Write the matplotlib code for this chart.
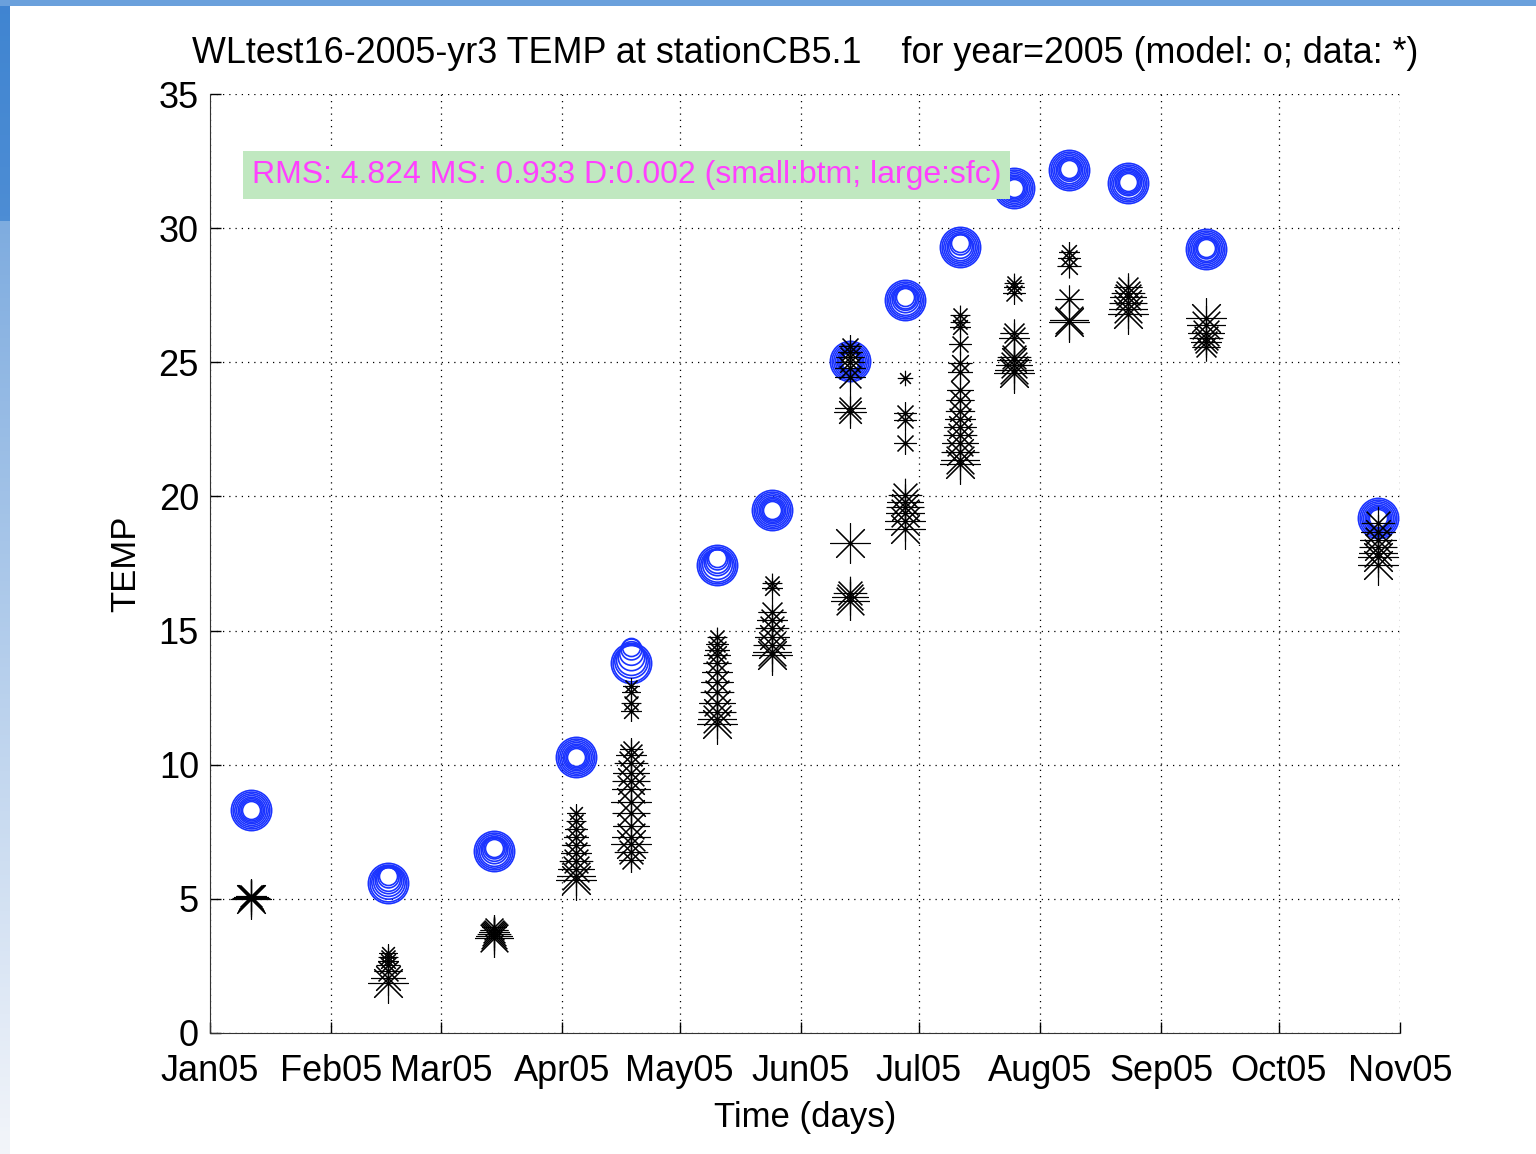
import numpy as np
import matplotlib
matplotlib.use("Agg")
import matplotlib.pyplot as plt

plt.rcParams['font.family'] = ['Liberation Sans', 'DejaVu Sans']

# 月份刻度 (2005 年 1 月 1 日起的天数)
month_days = [0, 31, 59, 90, 120, 151, 181, 212, 243, 273, 304]
month_labels = ['Jan05', 'Feb05', 'Mar05', 'Apr05', 'May05', 'Jun05',
                'Jul05', 'Aug05', 'Sep05', 'Oct05', 'Nov05']

# 观测日期 (天)
cruise_days = [10.5, 45.5, 72.5, 93.5, 107.5, 129.5, 143.5, 163.5,
               177.5, 191.5, 205.5, 219.5, 234.5, 254.5, 298.5]

# 模式值: 每个日期 8 层 (btm -> sfc)
model_temp = [
    [8.30, 8.30, 8.30, 8.30, 8.30, 8.30, 8.30, 8.30],
    [5.85, 5.80, 5.75, 5.70, 5.65, 5.62, 5.60, 5.60],
    [6.90, 6.88, 6.85, 6.82, 6.80, 6.80, 6.80, 6.80],
    [10.30, 10.30, 10.30, 10.30, 10.28, 10.28, 10.28, 10.28],
    [14.40, 14.30, 14.15, 14.00, 13.90, 13.85, 13.80, 13.80],
    [17.70, 17.65, 17.60, 17.55, 17.50, 17.45, 17.45, 17.45],
    [19.50, 19.50, 19.50, 19.50, 19.48, 19.48, 19.48, 19.48],
    [25.05, 25.05, 25.05, 25.05, 25.05, 25.05, 25.05, 25.05],
    [27.45, 27.40, 27.38, 27.35, 27.32, 27.32, 27.32, 27.32],
    [29.45, 29.40, 29.35, 29.30, 29.30, 29.30, 29.30, 29.30],
    [31.50, 31.50, 31.50, 31.50, 31.48, 31.48, 31.48, 31.48],
    [32.20, 32.20, 32.20, 32.18, 32.18, 32.18, 32.18, 32.18],
    [31.72, 31.72, 31.72, 31.72, 31.70, 31.70, 31.70, 31.70],
    [29.25, 29.25, 29.22, 29.22, 29.22, 29.22, 29.22, 29.22],
    [19.20, 19.20, 19.20, 19.20, 19.18, 19.18, 19.18, 19.18],
]
model_sizes = [13, 15, 17, 19, 21.5, 24, 26.5, 29]

# 观测值 (星号) 与对应标记大小 (small: btm; large: sfc)
data_temp = [
    [5.12, 5.08, 5.04, 5.00],
    [3.00, 2.85, 2.70, 2.55, 2.30, 2.05, 1.85],
    [3.95, 3.85, 3.75, 3.70, 3.62, 3.55],
    [8.20, 7.90, 7.60, 7.30, 7.00, 6.70, 6.40, 6.10, 5.85, 5.70],
    [12.95, 12.70, 12.30, 12.00, 10.60, 10.35, 10.05, 9.70, 9.40, 9.10,
     8.60, 8.20, 7.70, 7.30, 7.05, 6.75, 6.45],
    [14.76, 14.50, 14.27, 14.10, 13.80, 13.45, 13.08, 12.70, 12.30, 11.96,
     11.70, 11.50],
    [16.77, 16.60, 15.70, 15.40, 15.10, 14.76, 14.46, 14.20, 14.10],
    [25.60, 25.40, 25.20, 25.00, 24.80, 24.45, 23.30, 23.15, 18.26, 16.40,
     16.25, 16.10],
    [24.40, 23.10, 22.85, 22.00, 20.05, 19.80, 19.60, 19.40, 19.10, 18.80],
    [26.76, 26.50, 26.30, 25.70, 24.97, 24.64, 23.97, 23.60, 23.20, 22.90,
     22.60, 22.30, 22.00, 21.65, 21.36, 21.20],
    [27.95, 27.80, 27.60, 26.10, 25.90, 25.20, 25.08, 24.90, 24.70, 24.60],
    [29.10, 28.90, 28.60, 27.35, 26.57, 26.50],
    [27.80, 27.60, 27.43, 27.20, 27.00, 26.80],
    [26.65, 26.40, 26.10, 25.90, 25.75, 25.57],
    [19.00, 18.67, 18.37, 18.10, 17.90, 17.74, 17.44],
]
data_sizes = [
    [22, 25, 27, 29],
    [13, 14, 15, 17, 20, 25, 29],
    [18, 20, 22, 24, 26, 28],
    [13, 14, 16, 18, 20, 22, 24, 26, 28, 29],
    [12, 13, 14, 15, 16, 22, 24, 26, 27, 28, 29, 27, 26, 28, 29, 24, 18],
    [14, 16, 18, 19, 20, 22, 23, 24, 26, 27, 28, 29],
    [14, 15, 20, 22, 24, 25, 27, 28, 29],
    [16, 18, 20, 21, 22, 22, 22, 23, 29, 24, 26, 28],
    [11, 16, 16, 16, 24, 26, 27, 28, 29, 29],
    [14, 14, 15, 16, 17, 18, 19, 20, 21, 22, 23, 24, 26, 27, 28, 29],
    [14, 15, 16, 20, 22, 24, 25, 26, 28, 29],
    [15, 16, 17, 20, 28, 29],
    [20, 24, 26, 27, 28, 29],
    [29, 28, 26, 24, 22, 20],
    [24, 25, 26, 27, 28, 29, 29],
]

fig = plt.figure(figsize=(15.36, 11.54), dpi=100)

# 截图边框 (左侧/顶部蓝色条)
strip = fig.add_axes([0, 0, 10 / 1536, 1])
grad = np.linspace(0, 1, 256).reshape(-1, 1)
grad = np.where(grad < 0.19, grad * 0.4, 0.35 + 0.65 * (grad - 0.19) / 0.81)
strip.imshow(np.dstack([0.25 + 0.70 * grad, 0.52 + 0.44 * grad, 0.82 + 0.16 * grad]),
             aspect='auto', extent=[0, 1, 0, 1], origin='upper')
strip.axis('off')
top = fig.add_axes([0, 1 - 6 / 1154, 1, 6 / 1154])
top.set_facecolor('#6aa0dc')
top.set_xticks([])
top.set_yticks([])
for s in top.spines.values():
    s.set_visible(False)

ax = fig.add_axes([210 / 1536, 1 - 1033 / 1154, 1190 / 1536, 939 / 1154])

# 模式: 蓝色同心圆
for d, temps in zip(cruise_days, model_temp):
    for t, ms in zip(temps, model_sizes):
        ax.plot(d, t, 'o', mfc='none', mec='#1a33ff', ms=ms, mew=1.2, zorder=3)

# 观测: 黑色星号
for d, temps, sizes in zip(cruise_days, data_temp, data_sizes):
    for t, ms in zip(temps, sizes):
        ax.plot(d, t, marker=(8, 2, 0), color='black', ms=ms, mew=0.8,
                linestyle='none', zorder=4)

ax.set_xlim(0, 304)
ax.set_ylim(0, 35)
ax.set_xticks(month_days)
ax.set_xticklabels(month_labels)
ax.set_yticks(range(0, 36, 5))
ax.tick_params(direction='in', length=8, width=1, labelsize=26)
ax.tick_params(axis='x', pad=15)
ax.tick_params(axis='y', pad=8)
ax.grid(True, color='black', linestyle=(0, (1, 4)), linewidth=0.9)
ax.spines['top'].set_visible(False)
ax.spines['right'].set_visible(False)
ax.spines['left'].set_color('#333333')
ax.spines['bottom'].set_color('#333333')

ax.set_xlabel('Time (days)', fontsize=25, labelpad=9)
ax.set_ylabel('TEMP', fontsize=25, labelpad=12)
ax.set_title('WLtest16-2005-yr3 TEMP at stationCB5.1    for year=2005 (model: o; data: *)',
             fontsize=25.8, pad=22)

ax.text(0.0353, 0.914, 'RMS: 4.824 MS: 0.933 D:0.002 (small:btm; large:sfc)',
        transform=ax.transAxes, ha='left', va='center', fontsize=23,
        color='#ff40ff', zorder=10,
        bbox=dict(boxstyle='square,pad=0.28', fc='#c0e8c0', ec='none'))

fig.savefig('out.png', dpi=100)
